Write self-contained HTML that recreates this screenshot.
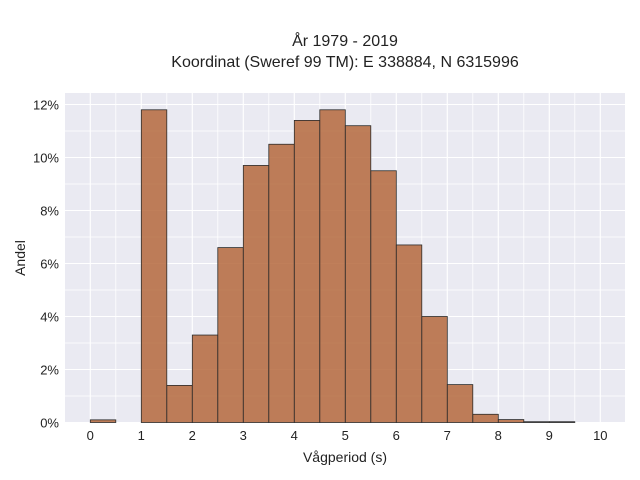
<!DOCTYPE html>
<html><head><meta charset="utf-8">
<style>
body{margin:0;background:#fff;}
svg{display:block;font-family:"Liberation Sans",sans-serif;}
</style></head>
<body>
<svg id="chart" width="640" height="480" viewBox="0 0 640 480">
<text x="345" y="46" text-anchor="middle" font-size="16" fill="#222">År 1979 - 2019</text>
<text x="345" y="67" text-anchor="middle" font-size="16" fill="#222">Koordinat (Sweref 99 TM): E 338884, N 6315996</text>
<rect x="65" y="93" width="560" height="330" fill="#eaeaf2"/>
<g id="grid"></g>
<g id="bars"></g>
<g id="xticks"></g>
<g id="yticks"></g>
<text x="345" y="462" text-anchor="middle" font-size="14" fill="#222">Vågperiod (s)</text>
<text x="25" y="258" text-anchor="middle" font-size="14" fill="#222" transform="rotate(-90 25 258)">Andel</text>
</svg>
<script>
const binStarts = [0,0.5,1,1.5,2,2.5,3,3.5,4,4.5,5,5.5,6,6.5,7,7.5,8,8.5,9,9.5];
const binValues = [0.1,0,11.8,1.4,3.3,6.6,9.7,10.5,11.4,11.8,11.2,9.5,6.7,4.0,1.43,0.31,0.11,0.03,0.03,0];
const xTickLabels = [0,1,2,3,4,5,6,7,8,9,10];
const yTickLabels = [0,2,4,6,8,10,12];
const binWidth = 0.5;
const NS="http://www.w3.org/2000/svg";
const xs = v => 90.3 + v*51;
const ys = v => 422.5 - v*26.5;
const grid=document.getElementById('grid'), bars=document.getElementById('bars');
const xt=document.getElementById('xticks'), yt=document.getElementById('yticks');
function mk(tag,attrs,parent){const e=document.createElementNS(NS,tag);for(const k in attrs)e.setAttribute(k,attrs[k]);parent.appendChild(e);return e;}
for(let v=-0.5; v<=10.5; v+=0.5){
  const x=xs(v); if(x<65||x>625) continue;
  const l=mk('line',{x1:x,x2:x,y1:93,y2:423,stroke:'#fff','stroke-width':v%1===0?1.1:0.8},grid);
  
  
}
for(let v=0; v<=13; v+=1){
  const y=ys(v); if(y<93) continue;
  const l=mk('line',{x1:65,x2:625,y1:y,y2:y,stroke:'#fff','stroke-width':v%2===0?1.1:0.8},grid);
  
  
}
binStarts.forEach((s,i)=>{
  const v=binValues[i]; if(v<=0) return;
  const x0=xs(s), x1=xs(s+binWidth), y=ys(v);
  const r=mk('rect',{x:x0,y:y,width:x1-x0,height:ys(0)-y,fill:'#b5683d','fill-opacity':0.85,stroke:'#2b2b2b','stroke-width':0.8},bars);
  
  
});
xTickLabels.forEach(v=>{
  const t=mk('text',{x:xs(v),y:440,'text-anchor':'middle','font-size':13,fill:'#222'},xt);
  t.textContent=v;
  
  
});
yTickLabels.forEach(v=>{
  const t=mk('text',{x:59,y:ys(v)+5,'text-anchor':'end','font-size':13,fill:'#222'},yt);
  t.textContent=v+'%';
  
  
});
</script>
</body></html>
